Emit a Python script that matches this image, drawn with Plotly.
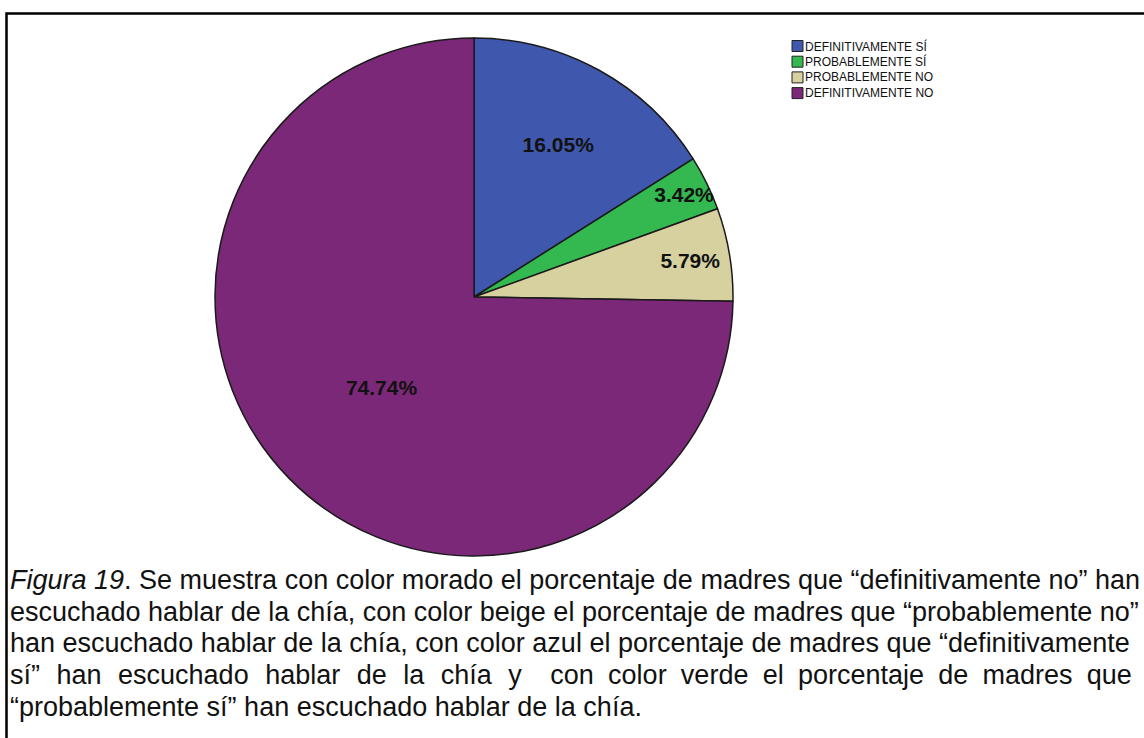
import plotly.graph_objects as go

categories = ["DEFINITIVAMENTE SÍ", "PROBABLEMENTE SÍ", "PROBABLEMENTE NO", "DEFINITIVAMENTE NO"]
values = [16.05, 3.42, 5.79, 74.74]
colors = ["#3F58AD", "#33B94F", "#D7D09F", "#7C2878"]

SP_A = "\u00a0\u2004"  # widened gaps for the justified line
SP_B = "\u00a0\u2005"
caption_lines = [
    "<i>Figura 19</i>. Se muestra con color morado el porcentaje de madres que “definitivamente no” han",
    "escuchado hablar de la chía, con color beige el porcentaje de madres que “probablemente no”",
    "han escuchado hablar de la chía, con color azul el porcentaje de madres que “definitivamente",
    SP_A.join("sí” han escuchado hablar de la chía y".split(" ")) + SP_B + SP_B
    + SP_B.join("con color verde el porcentaje de madres que".split(" ")),
    "“probablemente sí” han escuchado hablar de la chía.",
]

W, H = 1144, 738
cx, cy, r = 474, 297, 259
FONT = "Liberation Sans, Arial"

fig = go.Figure()
fig.add_trace(go.Pie(
    labels=categories,
    values=values,
    sort=False,
    direction="clockwise",
    rotation=0,
    marker=dict(colors=colors, line=dict(color="#1a1a1a", width=1.5)),
    texttemplate="%{value:.2f}%",
    textposition="inside",
    insidetextorientation="horizontal",
    textfont=dict(family=FONT, size=21, color="#111111", weight="bold"),
    domain=dict(x=[(cx - r) / W, (cx + r) / W], y=[(H - cy - r) / H, (H - cy + r) / H]),
    showlegend=False,
    hoverinfo="label+percent",
))

shapes = []
annotations = []
# frame
shapes.append(dict(type="rect", xref="paper", yref="paper",
                   x0=6.5 / W, x1=1.02, y0=-0.02, y1=1 - 13.5 / H,
                   line=dict(color="black", width=2.5), fillcolor="rgba(0,0,0,0)"))
# manual legend
lx, ly0, dy, sq = 792, 46, 15.7, 11
for i, (cat, col) in enumerate(zip(categories, colors)):
    yc = ly0 + i * dy
    shapes.append(dict(type="rect", xref="paper", yref="paper",
                       x0=lx / W, x1=(lx + sq) / W,
                       y0=1 - (yc + sq / 2) / H, y1=1 - (yc - sq / 2) / H,
                       fillcolor=col, line=dict(color="#222222", width=1)))
    annotations.append(dict(xref="paper", yref="paper", x=(lx + sq) / W, y=1 - yc / H,
                            xanchor="left", yanchor="middle", showarrow=False, text=cat,
                            font=dict(family=FONT, size=12, color="#111111")))
# caption
cap_y = [580, 612, 643, 675, 707]
for line, y in zip(caption_lines, cap_y):
    annotations.append(dict(xref="paper", yref="paper", x=8 / W, y=1 - y / H,
                            xanchor="left", yanchor="middle", showarrow=False, text=line,
                            font=dict(family=FONT, size=27, color="#111111")))

fig.update_layout(
    width=W, height=H,
    margin=dict(l=0, r=0, t=0, b=0),
    paper_bgcolor="white", plot_bgcolor="white",
    uniformtext=dict(minsize=21, mode="show"),
    shapes=shapes, annotations=annotations,
)
fig.write_html("out.html")
